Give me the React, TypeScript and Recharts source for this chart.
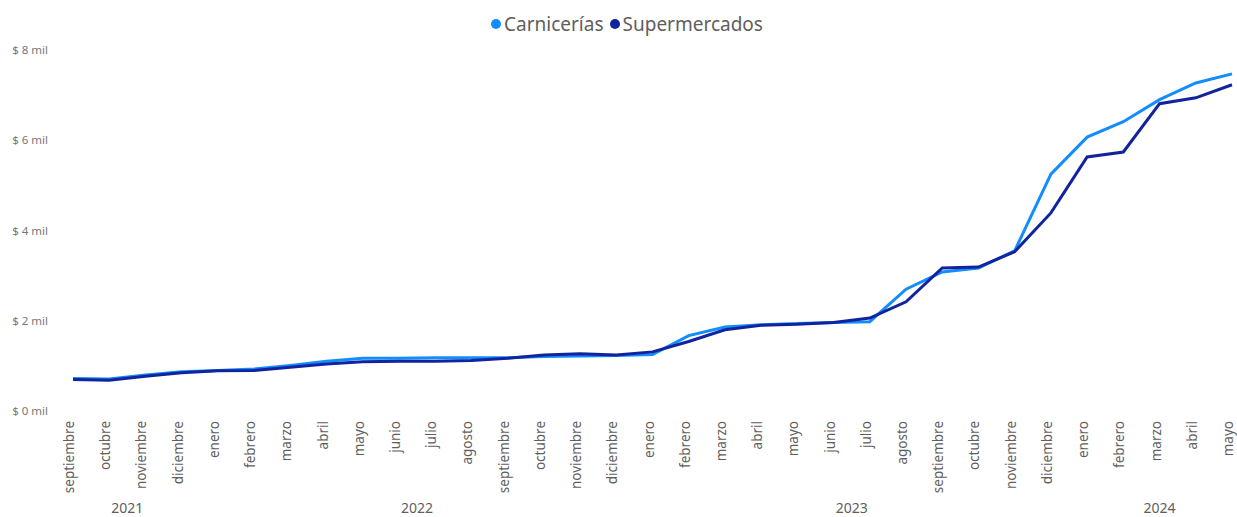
import { Legend, Line, LineChart, XAxis, YAxis } from "recharts";

const months = [
  "septiembre", "octubre", "noviembre", "diciembre",
  "enero", "febrero", "marzo", "abril", "mayo", "junio", "julio", "agosto",
  "septiembre", "octubre", "noviembre", "diciembre",
  "enero", "febrero", "marzo", "abril", "mayo", "junio", "julio", "agosto",
  "septiembre", "octubre", "noviembre", "diciembre",
  "enero", "febrero", "marzo", "abril", "mayo"
];

// thousands of pesos
const carnicerias = [
  0.72, 0.71, 0.8, 0.87, 0.9, 0.93, 1.01, 1.1, 1.17, 1.17, 1.18, 1.18,
  1.18, 1.21, 1.22, 1.23, 1.25, 1.67, 1.86, 1.91, 1.94, 1.96, 1.98, 2.7,
  3.08, 3.17, 3.55, 5.25, 6.07, 6.41, 6.9, 7.27, 7.47
];
const supermercados = [
  0.7, 0.68, 0.77, 0.85, 0.89, 0.9, 0.97, 1.04, 1.09, 1.1, 1.1, 1.12,
  1.17, 1.24, 1.27, 1.24, 1.31, 1.54, 1.8, 1.9, 1.92, 1.96, 2.06, 2.42,
  3.17, 3.19, 3.53, 4.39, 5.63, 5.74, 6.81, 6.94, 7.23
];

const years = ["2021", "2022", "2023", "2024"];
// center of each year's run of months, in month-index units
const yearCenters = [1.5, 9.5, 21.5, 30];

const yTicks = [0, 2, 4, 6, 8];

const CARN = "#118DFF";
const SUPER = "#12239E";
const FONT = "'Noto Sans', 'Open Sans', sans-serif";

const data = months.map((m, i) => ({
  key: i,
  month: m,
  carn: carnicerias[i],
  super: supermercados[i]
}));

function MonthTick(props: any) {
  const { x, y, payload } = props;
  return (
    <text
      x={x}
      y={y}
      transform={`rotate(-90, ${x}, ${y})`}
      textAnchor="end"
      dy={1}
      fill="#605E5C"
      fontSize={13.5}
      fontFamily={FONT}
    >
      {months[payload.value]}
    </text>
  );
}

function YearTick(props: any) {
  const { x, y, payload } = props;
  return (
    <text x={x} y={y} dy={8} textAnchor="middle" fill="#605E5C" fontSize={14} fontFamily={FONT}>
      {years[yearCenters.indexOf(payload.value)]}
    </text>
  );
}

function LegendContent() {
  const items = [
    { name: "Carnicerías", color: CARN },
    { name: "Supermercados", color: SUPER }
  ];
  return (
    <div
      style={{
        display: "flex",
        justifyContent: "center",
        gap: 6,
        paddingLeft: 12,
        fontFamily: FONT,
        fontSize: 19,
        lineHeight: "26px",
        color: "#605E5C"
      }}
    >
      {items.map((it) => (
        <span key={it.name} style={{ display: "flex", alignItems: "center" }}>
          <span
            style={{
              width: 10,
              height: 10,
              borderRadius: 5,
              background: it.color,
              marginRight: 3
            }}
          />
          {it.name}
        </span>
      ))}
    </div>
  );
}

export default function App() {
  return (
    <div style={{ position: "absolute", left: 0, top: 0, background: "#fff" }}>
      <LineChart
        width={1237}
        height={517}
        data={data}
        margin={{ top: 24, right: 5, bottom: 0, left: 10 }}
      >
        <Legend verticalAlign="top" content={<LegendContent />} wrapperStyle={{ top: 11 }} />
        <XAxis
          dataKey="key"
          type="number"
          domain={[0, months.length - 1]}
          ticks={data.map((d) => d.key)}
          interval={0}
          axisLine={false}
          tickLine={false}
          tickMargin={4}
          height={88}
          tick={<MonthTick />}
        />
        <XAxis
          xAxisId="year"
          type="number"
          domain={[0, months.length - 1]}
          ticks={yearCenters}
          axisLine={false}
          tickLine={false}
          tickMargin={0}
          height={18}
          tick={<YearTick />}
        />
        <YAxis
          domain={[0, 8]}
          ticks={yTicks}
          tickFormatter={(v: number) => `$ ${v} mil`}
          axisLine={false}
          tickLine={false}
          width={63}
          tickMargin={19}
          tick={{ fill: "#777", fontSize: 11.5, fontFamily: FONT }}
        />
        <Line
          dataKey="carn"
          name="Carnicerías"
          stroke={CARN}
          strokeWidth={3}
          dot={false}
          isAnimationActive={false}
        />
        <Line
          dataKey="super"
          name="Supermercados"
          stroke={SUPER}
          strokeWidth={3}
          dot={false}
          isAnimationActive={false}
        />
      </LineChart>
    </div>
  );
}
